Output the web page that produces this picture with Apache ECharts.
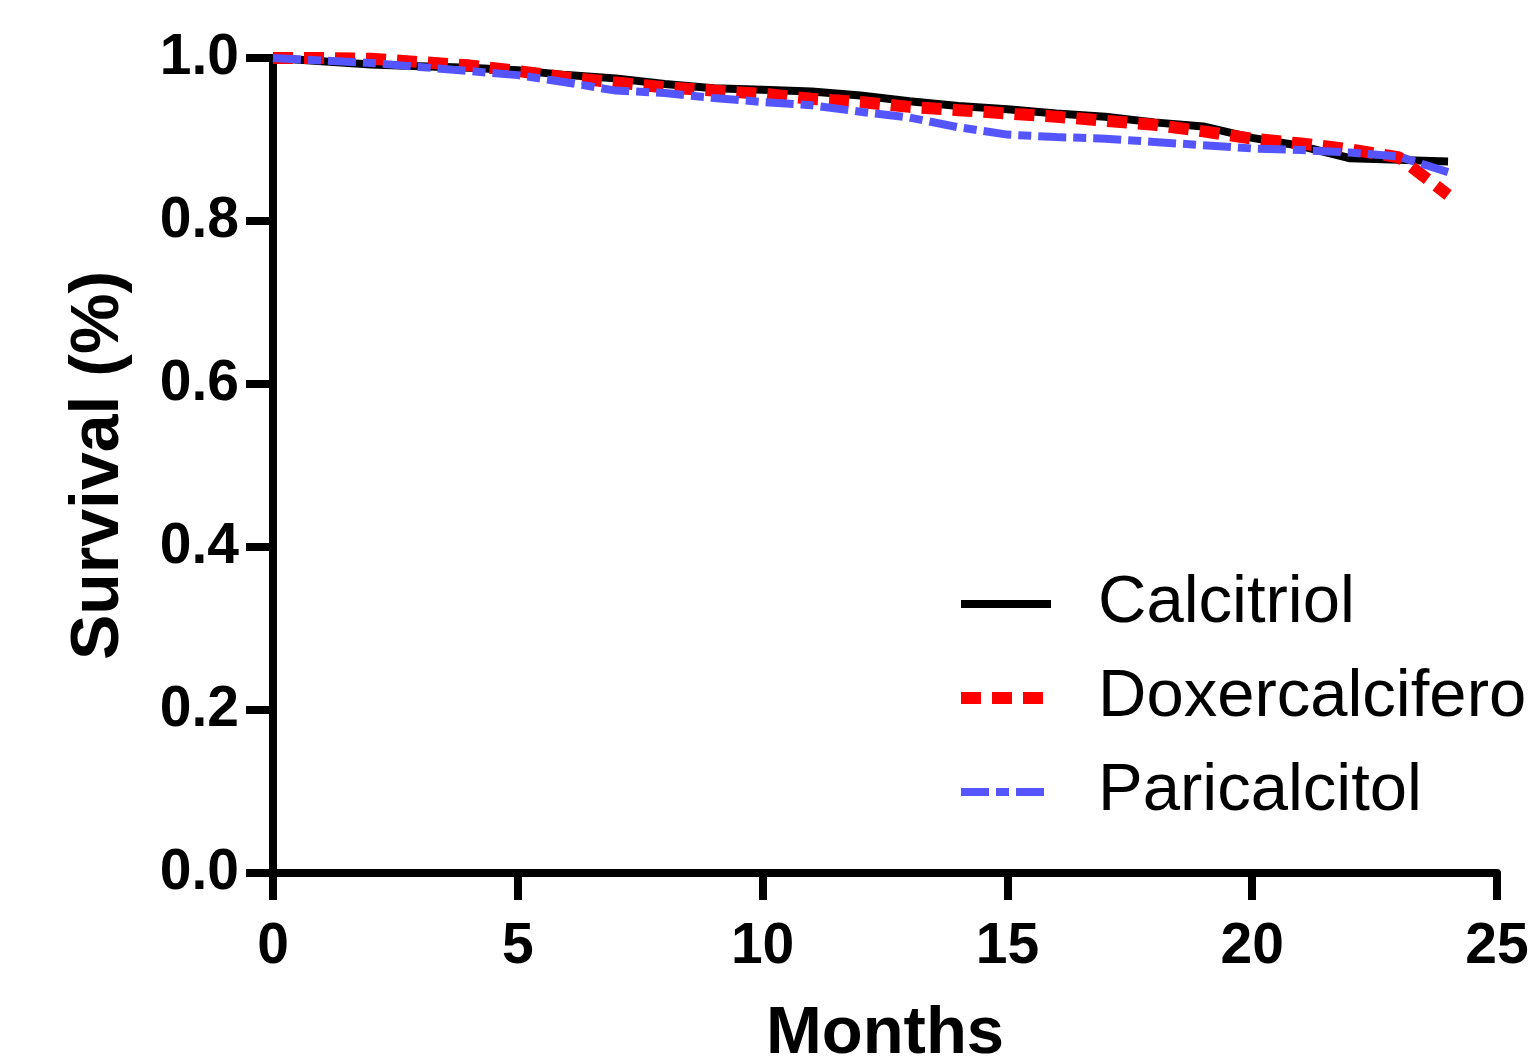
<!DOCTYPE html>
<html>
<head>
<meta charset="utf-8">
<script src="https://cdn.jsdelivr.net/npm/echarts@6/dist/echarts.min.js"></script>
<style>
  html, body { margin: 0; padding: 0; background: #fff; }
  #chart { width: 1530px; height: 1059px; }
</style>
</head>
<body>
<div id="chart"></div>
<script>
// months 0..24, survival
const months = [0, 1, 2, 3, 4, 5, 6, 7, 8, 9, 10, 11, 12, 13, 14, 15, 16, 17, 18, 19, 20, 21, 22, 23, 24]
const calcitriol = [1.000, 0.996, 0.992, 0.990, 0.988, 0.985, 0.979, 0.975, 0.968, 0.963, 0.961, 0.959, 0.954,
  0.947, 0.941, 0.937, 0.932, 0.928, 0.921, 0.916, 0.902, 0.892, 0.877, 0.875, 0.873]
const doxercalciferol = [1.000, 1.000, 0.999, 0.995, 0.991, 0.984, 0.976, 0.970, 0.964, 0.960, 0.956, 0.950, 0.946,
  0.940, 0.936, 0.932, 0.928, 0.923, 0.918, 0.910, 0.901, 0.895, 0.888, 0.878, 0.832]
const paricalcitol = [1.000, 0.997, 0.994, 0.989, 0.984, 0.979, 0.970, 0.960, 0.957, 0.951, 0.946, 0.942, 0.934,
  0.927, 0.915, 0.906, 0.903, 0.901, 0.897, 0.893, 0.889, 0.887, 0.884, 0.879, 0.860]
const seriesNames = ['Calcitriol', 'Doxercalciferol', 'Paricalcitol']

const font = 'Liberation Sans, Arial, sans-serif'
const pairs = (ys) => months.map((m, i) => [m, ys[i]])

const chart = echarts.init(document.getElementById('chart'))
chart.setOption({
  backgroundColor: '#fff',
  animation: false,
  // fixed plot box, don't let echarts shrink it to fit the labels
  grid: { left: 273, top: 58, width: 1224, height: 815, outerBoundsMode: 'none', containLabel: false },
  legend: {
    orient: 'vertical',
    left: 950,
    top: 565,
    itemWidth: 90,
    itemHeight: 14,
    itemGap: 26,
    data: seriesNames,
    itemStyle: { opacity: 0 }, // no symbol dot on the legend line
    lineStyle: { width: 'inherit' },
    textStyle: { fontFamily: font, fontSize: 67, lineHeight: 68, color: '#000', padding: [0, 0, 0, 42] }
  },
  xAxis: {
    type: 'value',
    min: 0,
    max: 25,
    interval: 5,
    name: 'Months',
    nameLocation: 'middle',
    nameGap: 128,
    nameTextStyle: { fontFamily: font, fontSize: 67, fontWeight: 'bold', color: '#000' },
    splitLine: { show: false },
    axisLine: { lineStyle: { color: '#000', width: 8 } },
    axisTick: { length: 27, lineStyle: { color: '#000', width: 8 } },
    axisLabel: { fontFamily: font, fontSize: 57, fontWeight: 'bold', color: '#000', margin: 46 }
  },
  yAxis: {
    type: 'value',
    min: 0,
    max: 1,
    interval: 0.2,
    name: 'Survival (%)',
    nameLocation: 'middle',
    nameGap: 140,
    nameTextStyle: { fontFamily: font, fontSize: 68, fontWeight: 'bold', color: '#000' },
    splitLine: { show: false },
    axisLine: { show: true, lineStyle: { color: '#000', width: 8 } },
    axisTick: { show: true, length: 27, lineStyle: { color: '#000', width: 8 } },
    axisLabel: {
      fontFamily: font, fontSize: 57, fontWeight: 'bold', color: '#000', margin: 34,
      formatter: (v) => v.toFixed(1)
    }
  },
  series: [
    {
      name: 'Calcitriol',
      type: 'line',
      symbol: 'none',
      clip: false,
      data: pairs(calcitriol),
      itemStyle: { color: '#000' },
      lineStyle: { color: '#000', width: 8 }
    },
    {
      name: 'Doxercalciferol',
      type: 'line',
      symbol: 'none',
      clip: false,
      data: pairs(doxercalciferol),
      itemStyle: { color: '#ff0000' },
      lineStyle: { color: '#ff0000', width: 12, type: [20, 11] }
    },
    {
      name: 'Paricalcitol',
      type: 'line',
      symbol: 'none',
      clip: false,
      data: pairs(paricalcitol),
      itemStyle: { color: '#5555ff' },
      lineStyle: { color: '#5555ff', width: 8, type: [28, 7, 13, 7] }
    }
  ]
})
</script>
</body>
</html>
